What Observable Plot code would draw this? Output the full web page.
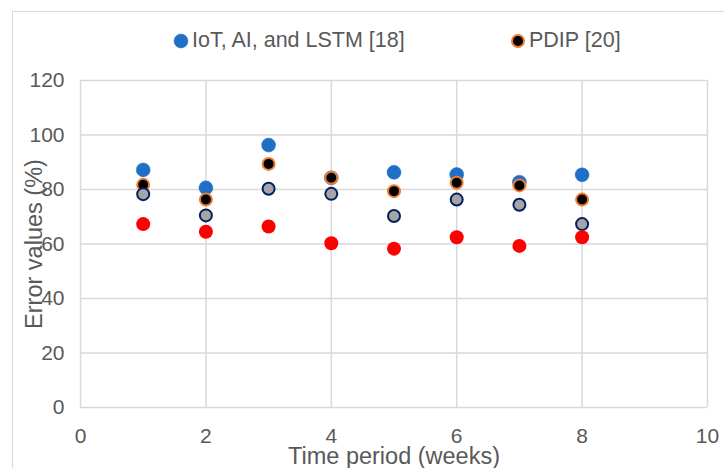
<!DOCTYPE html>
<html>
<head>
<meta charset="utf-8">
<script src="https://cdn.jsdelivr.net/npm/d3@7"></script>
<script src="https://cdn.jsdelivr.net/npm/@observablehq/plot@0.6"></script>
<style>
  html, body { margin: 0; padding: 0; background: #fff; }
  #wrap { position: relative; width: 724px; height: 468px; overflow: hidden; font-family: "Liberation Sans", Arial, sans-serif; }
  #frame { position: absolute; left: 12px; top: 11px; width: 800px; height: 600px; border-left: 1.5px solid #d9d9d9; border-top: 1.5px solid #d9d9d9; }
  #legend { position: absolute; left: 0; top: 0; width: 724px; height: 80px; }
  .item { position: absolute; top: 28px; display: flex; align-items: center; font-size: 21.5px; color: #595959; white-space: nowrap; }
  .item svg { margin-right: 3px; }
  #chart { position: absolute; left: 0; top: 0; }
</style>
</head>
<body>
<div id="wrap">
  <div id="frame"></div>
  <div id="chart"></div>
  <div id="legend"></div>
</div>
<script>
const weeks = [1, 2, 3, 4, 5, 6, 7, 8];
const iotAiLstm = [87.2, 80.6, 96.3, 84.3, 86.3, 85.5, 82.7, 85.4];
const pdip = [81.7, 76.3, 89.4, 84.3, 79.4, 82.5, 81.5, 76.3];
const series3 = [78.3, 70.5, 80.3, 78.4, 70.3, 76.3, 74.4, 67.3];
const series4 = [67.3, 64.5, 66.4, 60.3, 58.3, 62.5, 59.3, 62.5];
const xTicks = [0, 2, 4, 6, 8, 10];
const yTicks = [0, 20, 40, 60, 80, 100, 120];
const legendNames = ["IoT, AI, and LSTM [18]", "PDIP [20]"];
const xTitle = "Time period (weeks)";
const yTitle = "Error values (%)";

const rows = (vals) => weeks.map((w, i) => ({week: w, value: vals[i]}));

const grid = "#d9d9d9";
const textColor = "#595959";

const chart = Plot.plot({
  width: 724,
  height: 468,
  marginLeft: 80,
  marginRight: 17,
  marginTop: 80,
  marginBottom: 61,
  style: {fontFamily: "Liberation Sans, Arial, sans-serif", background: "transparent", overflow: "visible"},
  x: {domain: [0, 10]},
  y: {domain: [0, 120]},
  marks: [
    Plot.ruleX(xTicks, {x: d => d, stroke: grid, strokeWidth: 1.5}),
    Plot.ruleY(yTicks, {y: d => d, stroke: grid, strokeWidth: 1.5}),
    Plot.axisX({ticks: xTicks, tickSize: 0, tickPadding: 21, fontSize: 21, fill: textColor, label: null}),
    Plot.axisY({ticks: yTicks, tickSize: 0, tickPadding: 16, fontSize: 21, fill: textColor, label: null}),
    Plot.dot(rows(iotAiLstm), {x: "week", y: "value", r: 7, fill: "#1f6fc6", stroke: "#2a74c8", strokeWidth: 0.5}),
    Plot.dot(rows(pdip), {x: "week", y: "value", r: 6, fill: "#000000", stroke: "#ed7d31", strokeWidth: 2}),
    Plot.dot(rows(series3), {x: "week", y: "value", r: 6, fill: "#a5a5a5", stroke: "#002060", strokeWidth: 2}),
    Plot.dot(rows(series4), {x: "week", y: "value", r: 7, fill: "#ff0000"}),
    Plot.text([yTitle], {frameAnchor: "left", dx: -46, rotate: -90, fontSize: 23.5, fill: textColor, lineAnchor: "middle", textAnchor: "middle"}),
    Plot.text([xTitle], {frameAnchor: "bottom", dy: 49, fontSize: 23.5, fill: textColor, lineAnchor: "middle", textAnchor: "middle"})
  ]
});
document.getElementById("chart").appendChild(chart);

const legend = document.getElementById("legend");
const legendStyles = [
  {left: 173, fill: "#1f6fc6", stroke: "#2a74c8", sw: 0.5, r: 7},
  {left: 510, fill: "#000000", stroke: "#ed7d31", sw: 2, r: 6}
];
legendNames.forEach((name, i) => {
  const s = legendStyles[i];
  const item = document.createElement("div");
  item.className = "item";
  item.style.left = s.left + "px";
  item.innerHTML = `<svg width="16" height="24"><circle cx="8" cy="12" r="${s.r}" fill="${s.fill}" stroke="${s.stroke}" stroke-width="${s.sw}"></circle></svg><span>${name}</span>`;
  legend.appendChild(item);
});
</script>
</body>
</html>
